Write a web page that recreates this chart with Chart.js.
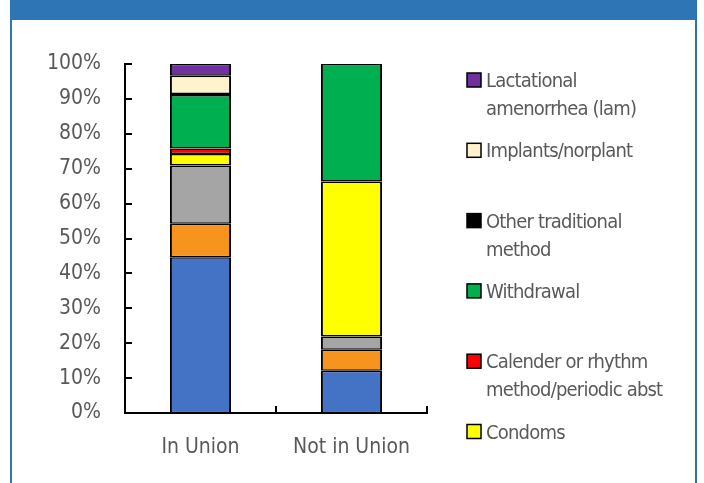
<!DOCTYPE html>
<html>
<head>
<meta charset="utf-8">
<script src="https://cdn.jsdelivr.net/npm/chart.js@4.4.1/dist/chart.umd.min.js"></script>
<style>
  html, body { margin: 0; padding: 0; background: #fff; }
  #frame { position: absolute; left: 10px; top: 0; width: 683px; height: 483px;
           border-left: 2px solid #2E75B6; border-right: 2px solid #2E75B6; }
  #head { position: absolute; left: 10px; top: 0; width: 687px; height: 20px; background: #2E75B6; }
  #chart { position: absolute; left: 0; top: 0; }
</style>
</head>
<body>
<div id="frame"></div>
<div id="head"></div>
<canvas id="chart" width="704" height="483"></canvas>
<script>
// categories on the x axis
const categories = ['In Union', 'Not in Union'];

// series, bottom of the stack first
const seriesNames = [
  'Pill',
  'IUD',
  'Injectables',
  'Condoms',
  'Calender or rhythm method/periodic abst',
  'Withdrawal',
  'Other traditional method',
  'Implants/norplant',
  'Lactational amenorrhea (lam)'
];
const inUnion    = [44.6, 9.6, 16.7, 3.3, 1.6, 15.3, 0.3, 5.2, 3.4];
const notInUnion = [12.1, 6.0, 3.8, 44.4, 0, 33.7, 0, 0, 0];
const seriesColors = ['#4472C4', '#F7941D', '#A5A5A5', '#FFFF00', '#FF0000', '#00B050', '#000000', '#FFF2CC', '#7030A0'];

const yTicks = [0, 10, 20, 30, 40, 50, 60, 70, 80, 90, 100];

const FONT = '"DejaVu Sans Condensed", "DejaVu Sans", sans-serif';
const TEXT = '#595959';

// ticks that point into the plot, like the excel original
const innerTicks = {
  id: 'innerTicks',
  afterDatasetsDraw(chart) {
    const { ctx, scales: { x, y } } = chart;
    ctx.save();
    ctx.strokeStyle = '#000';
    ctx.lineWidth = 2;
    y.ticks.forEach(t => {
      const py = Math.round(y.getPixelForValue(t.value));
      ctx.beginPath();
      ctx.moveTo(y.right, py);
      ctx.lineTo(y.right + 7, py);
      ctx.stroke();
    });
    for (let i = 0; i < categories.length; i++) {
      const px = Math.round(x.getPixelForValue(i + 0.5));
      ctx.beginPath();
      ctx.moveTo(px, x.top);
      ctx.lineTo(px, x.top - 7);
      ctx.stroke();
    }
    ctx.restore();
  }
};

// legend on the right, top series first, wrapped labels
const sideLegend = {
  id: 'sideLegend',
  afterDraw(chart) {
    const { ctx } = chart;
    const sets = chart.data.datasets.slice().reverse();
    ctx.save();
    ctx.font = '20px ' + FONT;
    ctx.letterSpacing = '-0.8px';
    ctx.textBaseline = 'alphabetic';
    sets.forEach((ds, i) => {
      const base = 87 + i * 70.3;
      ctx.fillStyle = ds.backgroundColor;
      ctx.fillRect(467, base - 14, 14, 14);
      ctx.strokeStyle = '#000';
      ctx.lineWidth = 1.5;
      ctx.strokeRect(467, base - 14, 14, 14);
      // word wrap
      const words = ds.label.split(' ');
      const lines = [];
      let cur = '';
      words.forEach(w => {
        const test = cur ? cur + ' ' + w : w;
        if (cur && ctx.measureText(test).width > 185) {
          lines.push(cur);
          cur = w;
        } else {
          cur = test;
        }
      });
      lines.push(cur);
      ctx.fillStyle = TEXT;
      lines.forEach((ln, k) => ctx.fillText(ln, 486, base + k * 28));
    });
    ctx.restore();
  }
};

const datasets = seriesNames.map((name, i) => ({
  label: name,
  data: [inUnion[i], notInUnion[i]],
  backgroundColor: seriesColors[i],
  borderColor: '#000',
  borderWidth: { top: 1.5, bottom: 1.5, left: 2, right: 2 },
  borderSkipped: false,
  barPercentage: 0.405,
  categoryPercentage: 1
}));

new Chart(document.getElementById('chart'), {
  type: 'bar',
  data: { labels: categories, datasets },
  options: {
    responsive: false,
    animation: false,
    layout: { padding: { top: 64, right: 277, left: 0, bottom: 0 } },
    plugins: { legend: { display: false }, tooltip: { enabled: false } },
    scales: {
      x: {
        stacked: true,
        grid: { display: false },
        border: { color: '#000', width: 2 },
        ticks: { color: TEXT, font: { family: FONT, size: 21 }, padding: 14 },
        afterFit: s => { s.height = 70; }
      },
      y: {
        stacked: true,
        min: 0,
        max: 100,
        afterBuildTicks: s => { s.ticks = yTicks.map(v => ({ value: v })); },
        grid: { display: false },
        border: { color: '#000', width: 2 },
        ticks: { color: TEXT, font: { family: FONT, size: 21 }, padding: 16, callback: v => v + '%' },
        afterFit: s => { s.width = 125; }
      }
    }
  },
  plugins: [innerTicks, sideLegend]
});
</script>
</body>
</html>
